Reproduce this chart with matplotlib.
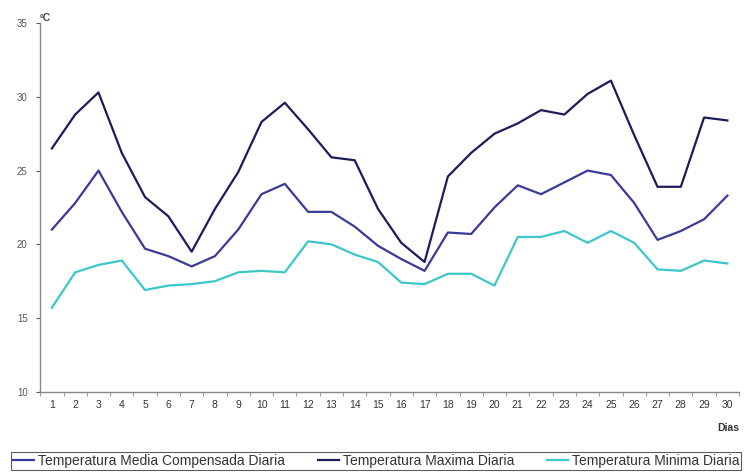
import numpy as np
import matplotlib
matplotlib.use("Agg")
from matplotlib import pyplot as plt

plt.rcParams['font.family'] = ['Liberation Sans', 'DejaVu Sans']

dias = list(range(1, 31))

t_media = [21.0, 22.8, 25.0, 22.2, 19.7, 19.2, 18.5, 19.2, 21.0, 23.4,
           24.1, 22.2, 22.2, 21.2, 19.9, 19.0, 18.2, 20.8, 20.7, 22.5,
           24.0, 23.4, 24.2, 25.0, 24.7, 22.8, 20.3, 20.9, 21.7, 23.3]

t_maxima = [26.5, 28.8, 30.3, 26.2, 23.2, 21.9, 19.5, 22.4, 24.9, 28.3,
            29.6, 27.8, 25.9, 25.7, 22.4, 20.1, 18.8, 24.6, 26.2, 27.5,
            28.2, 29.1, 28.8, 30.2, 31.1, 27.4, 23.9, 23.9, 28.6, 28.4]

t_minima = [15.7, 18.1, 18.6, 18.9, 16.9, 17.2, 17.3, 17.5, 18.1, 18.2,
            18.1, 20.2, 20.0, 19.3, 18.8, 17.4, 17.3, 18.0, 18.0, 17.2,
            20.5, 20.5, 20.9, 20.1, 20.9, 20.1, 18.3, 18.2, 18.9, 18.7]

fig = plt.figure(figsize=(7.45, 4.72), dpi=100)
ax = fig.add_axes([0.054, 0.17, 0.938, 0.781])

ax.plot(dias, t_media, color='#3a3a9a', lw=1.6, label='Temperatura Media Compensada Diaria',
        solid_joinstyle='round')
ax.plot(dias, t_maxima, color='#1c1c5c', lw=1.6, label='Temperatura Maxima Diaria',
        solid_joinstyle='round')
ax.plot(dias, t_minima, color='#3cc8c8', lw=1.6, label='Temperatura Minima Diaria',
        solid_joinstyle='round')

ax.set_xlim(0.5, 30.5)
ax.set_ylim(10, 35)
ax.set_yticks([10, 15, 20, 25, 30, 35])
ax.set_xticks(dias)
ax.set_xticks(np.arange(0.5, 31, 1), minor=True)

for s in ['top', 'right']:
    ax.spines[s].set_visible(False)
for s in ['left', 'bottom']:
    ax.spines[s].set_color('#888888')
    ax.spines[s].set_linewidth(1.0)

ax.tick_params(axis='y', labelsize=7, colors='#555555', length=3, direction='out', pad=6)
ax.tick_params(axis='x', which='major', labelsize=7.5, colors='#333333', length=0, pad=6)
ax.tick_params(axis='x', which='minor', length=3, color='#888888', direction='out')

ax.text(0.0, 1.0, 'ºC', transform=ax.transAxes, fontsize=7.5, fontweight='bold',
        color='#444444', ha='left', va='bottom')
ax.text(1.0, -0.085, 'Dias', transform=ax.transAxes, fontsize=7.5, fontweight='bold',
        color='#333333', ha='right', va='top')

leg = fig.legend(loc='lower left', bbox_to_anchor=(0.015, 0.004, 0.98, 0.042),
                 ncol=3, mode='expand', fontsize=10, frameon=True, fancybox=False,
                 borderaxespad=0, handlelength=1.5, handletextpad=0.3,
                 borderpad=0.15, labelcolor='#333333')
leg.get_frame().set_edgecolor('#333333')
leg.get_frame().set_linewidth(0.8)

plt.savefig('out.png', dpi=100)
